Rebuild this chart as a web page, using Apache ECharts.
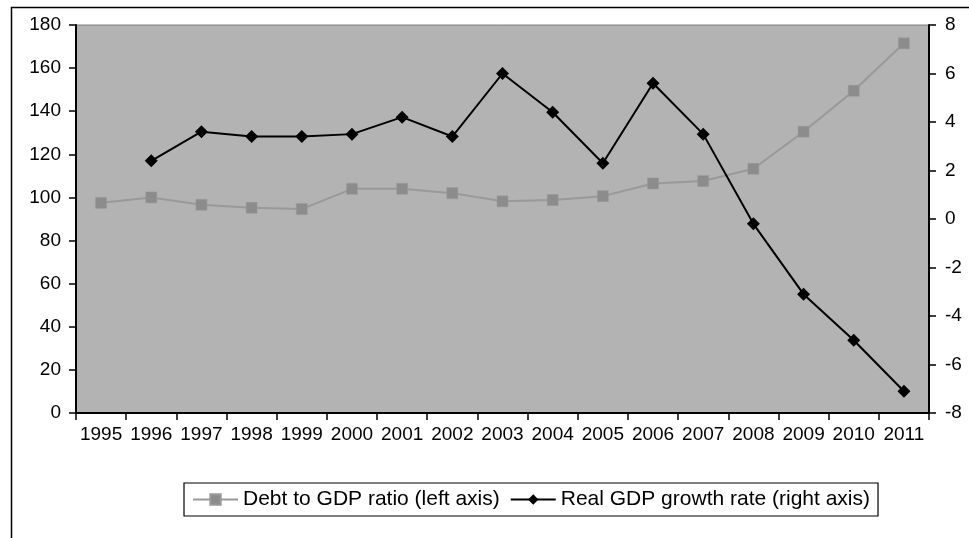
<!DOCTYPE html>
<html>
<head>
<meta charset="utf-8">
<script src="https://cdn.jsdelivr.net/npm/echarts@6/dist/echarts.min.js"></script>
<style>html,body{margin:0;padding:0;background:#fff}#c{width:969px;height:538px}</style>
</head>
<body>
<div id="c"></div>
<script>
const years = ['1995','1996','1997','1998','1999','2000','2001','2002','2003','2004','2005','2006','2007','2008','2009','2010','2011'];
const debtToGdp = [97.5, 100, 96.6, 95.2, 94.6, 104, 104, 102, 98.2, 98.8, 100.6, 106.5, 107.6, 113.3, 130.5, 149.5, 171.5];
const realGdpGrowth = [null, 2.4, 3.6, 3.4, 3.4, 3.5, 4.2, 3.4, 6.0, 4.4, 2.3, 5.6, 3.5, -0.2, -3.1, -5.0, -7.1];
const leftTicks = {min: 0, max: 180, interval: 20};
const rightTicks = {min: -8, max: 8, interval: 2};

const font = 'Liberation Sans, Arial, sans-serif';
const chart = echarts.init(document.getElementById('c'));
chart.setOption({
  animation: false,
  backgroundColor: '#ffffff',
  graphic: [{
    type: 'rect', left: 9, top: 5, silent: true,
    shape: {x: 0, y: 0, width: 1100, height: 700},
    style: {fill: 'none', stroke: '#000', lineWidth: 1.5}
  }],
  grid: {left: 76, right: 40, top: 25, bottom: 125, show: true, backgroundColor: '#b3b3b3', borderColor: '#808080', borderWidth: 1},
  legend: {
    left: 184, top: 483,
    padding: [6, 8, 6, 8],
    borderColor: '#000', borderWidth: 1.2,
    itemWidth: 45, itemHeight: 13, itemGap: 10,
    textStyle: {fontFamily: font, fontSize: 21, color: '#000'},
    data: ['Debt to GDP ratio (left axis)', 'Real GDP growth rate (right axis)']
  },
  xAxis: {
    type: 'category', data: years, boundaryGap: true,
    axisLine: {lineStyle: {color: '#000', width: 2}},
    axisTick: {show: true, interval: 0, length: 7, lineStyle: {color: '#000', width: 1.5}},
    axisLabel: {interval: 0, margin: 12, fontFamily: font, fontSize: 19, color: '#000'},
    splitLine: {show: false}
  },
  yAxis: [{
    type: 'value', position: 'left', min: leftTicks.min, max: leftTicks.max, interval: leftTicks.interval,
    axisLine: {show: true, lineStyle: {color: '#000', width: 2}},
    axisTick: {show: true, length: 7, lineStyle: {color: '#000', width: 1.5}},
    axisLabel: {margin: 15, fontFamily: font, fontSize: 19, color: '#000'},
    splitLine: {show: false}
  }, {
    type: 'value', position: 'right', min: rightTicks.min, max: rightTicks.max, interval: rightTicks.interval,
    axisLine: {show: true, lineStyle: {color: '#000', width: 2}},
    axisTick: {show: true, length: 7, lineStyle: {color: '#000', width: 1.5}},
    axisLabel: {margin: 16, fontFamily: font, fontSize: 19, color: '#000'},
    splitLine: {show: false}
  }],
  series: [{
    name: 'Debt to GDP ratio (left axis)', type: 'line', yAxisIndex: 0, data: debtToGdp,
    symbol: 'rect', symbolSize: 11,
    itemStyle: {color: '#8c8c8c', borderColor: '#9a9a9a', borderWidth: 0.5},
    lineStyle: {color: '#999999', width: 2},
    z: 2
  }, {
    name: 'Real GDP growth rate (right axis)', type: 'line', yAxisIndex: 1, data: realGdpGrowth,
    symbol: 'diamond', symbolSize: 13,
    itemStyle: {color: '#000'},
    lineStyle: {color: '#000', width: 2},
    z: 3
  }]
});
</script>
</body>
</html>
